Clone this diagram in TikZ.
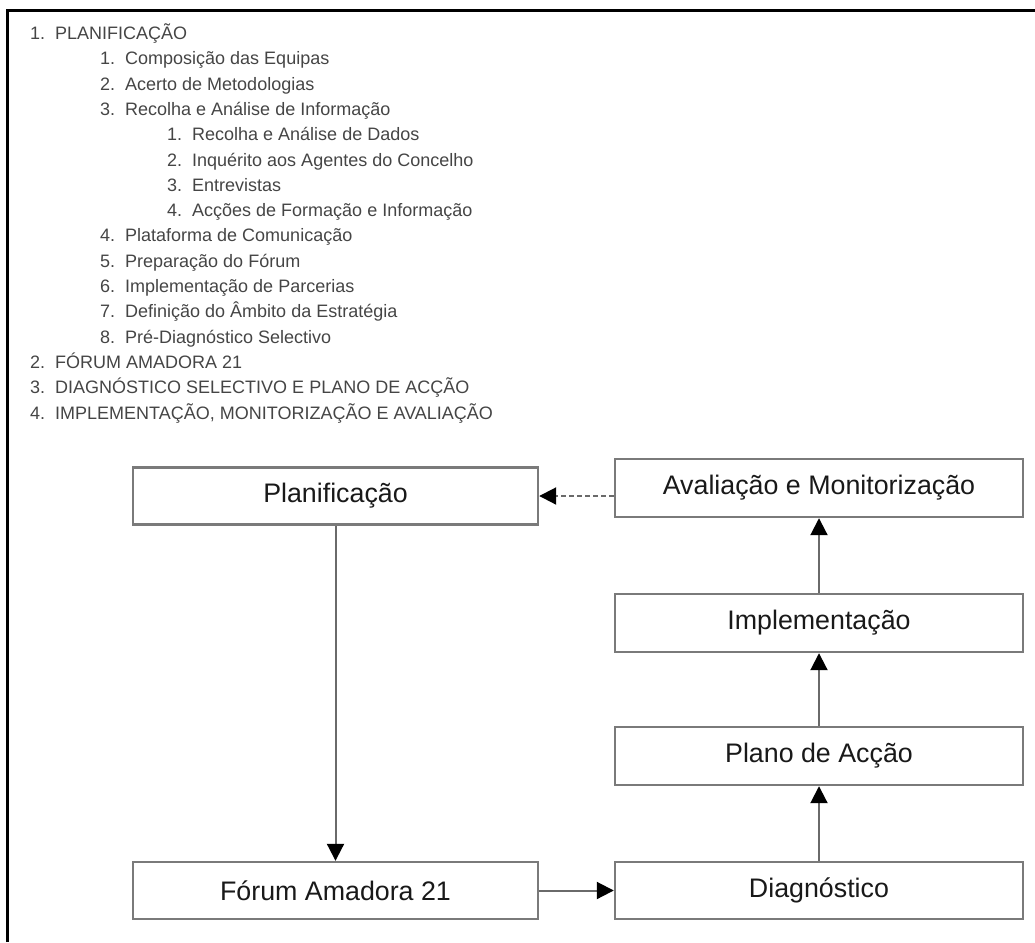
\documentclass[tikz,border=0pt]{standalone}
\usepackage{fontspec}
\setmainfont{Liberation Sans}
\usetikzlibrary{arrows.meta}

\definecolor{boxgray}{HTML}{7A7A7A}
\definecolor{listgray}{HTML}{454545}
\definecolor{linegray}{HTML}{6A6A6A}

% number column of the outline
\newcommand{\lnum}[1]{\makebox[25pt][l]{#1}}

\tikzset{
  stage/.style={draw=boxgray, line width=2.4pt, fill=white,
    minimum width=405pt, minimum height=57pt, inner sep=0pt,
    text=black!90, font=\fontsize{26.8}{30}\selectfont},
  item/.style={anchor=base west, inner sep=0pt, text=listgray,
    font=\fontsize{18}{21}\selectfont},
  flow/.style={draw=linegray, line width=2pt,
    -{Triangle[length=17pt,width=17pt,color=black]}},
}

\begin{document}
\begin{tikzpicture}[x=1pt,y=-1pt]
  \useasboundingbox (0,0) rectangle (1035,942);

  % frame
  \draw[line width=3pt] (7,942) -- (7,11) -- (1035,11);

  % outline of the phases
  \node[item] (o1)    at (30,39.5)  {\lnum{1.}PLANIFICAÇÃO};
  \node[item] (o11)   at (100,64.8) {\lnum{1.}Composição das Equipas};
  \node[item] (o12)   at (100,90.1) {\lnum{2.}Acerto de Metodologias};
  \node[item] (o13)   at (100,115.4) {\lnum{3.}Recolha e Análise de Informação};
  \node[item] (o131)  at (167,140.7) {\lnum{1.}Recolha e Análise de Dados};
  \node[item] (o132)  at (167,166.0) {\lnum{2.}Inquérito aos Agentes do Concelho};
  \node[item] (o133)  at (167,191.3) {\lnum{3.}Entrevistas};
  \node[item] (o134)  at (167,216.6) {\lnum{4.}Acções de Formação e Informação};
  \node[item] (o14)   at (100,241.9) {\lnum{4.}Plataforma de Comunicação};
  \node[item] (o15)   at (100,267.2) {\lnum{5.}Preparação do Fórum};
  \node[item] (o16)   at (100,292.5) {\lnum{6.}Implementação de Parcerias};
  \node[item] (o17)   at (100,317.8) {\lnum{7.}Definição do Âmbito da Estratégia};
  \node[item] (o18)   at (100,343.1) {\lnum{8.}Pré-Diagnóstico Selectivo};
  \node[item] (o2)    at (30,368.4) {\lnum{2.}FÓRUM AMADORA 21};
  \node[item] (o3)    at (30,393.7) {\lnum{3.}DIAGNÓSTICO SELECTIVO E PLANO DE ACÇÃO};
  \node[item] (o4)    at (30,419.0) {\lnum{4.}IMPLEMENTAÇÃO, MONITORIZAÇÃO E AVALIAÇÃO};

  % cycle
  \node[stage] (plan) at (335.5,496) {Planificação};
  \node[stage, minimum width=408pt, minimum height=58pt] (aval) at (819,488) {Avaliação e Monitorização};
  \node[stage, minimum width=408pt, minimum height=58pt] (impl) at (819,623) {Implementação};
  \node[stage, minimum width=408pt, minimum height=58pt] (acao) at (819,756) {Plano de Acção};
  \node[stage] (forum) at (335.5,890.5) {Fórum Amadora 21};
  \node[stage, minimum width=408pt] (diag) at (819,890.5) {Diagnóstico};

  \draw[flow] (plan) -- (forum);
  \draw[flow] (forum) -- (diag);
  \draw[flow] (diag) -- (acao);
  \draw[flow] (acao) -- (impl);
  \draw[flow] (impl) -- (aval);
  \draw[flow, dash pattern=on 5pt off 3pt] (aval.west |- plan.east) -- (plan.east);
\end{tikzpicture}
\end{document}
